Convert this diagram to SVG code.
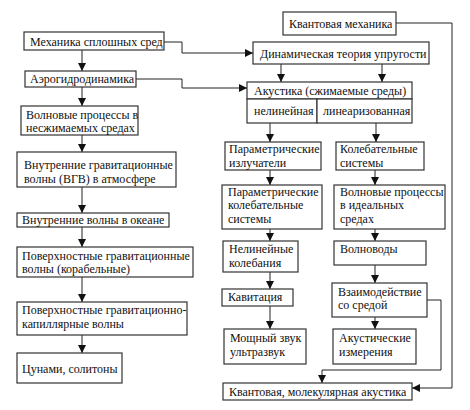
<svg xmlns="http://www.w3.org/2000/svg" width="470" height="410" viewBox="0 0 470 410" font-family="'Liberation Serif', 'DejaVu Serif', serif">
<style>
rect{fill:#fff;stroke:#333;stroke-width:1.2}
text{font-family:'Liberation Serif','DejaVu Serif',serif;font-size:12px;fill:#111}
.c path,.c line{fill:none;stroke:#222;stroke-width:1}
</style>
<defs>
<marker id="a" viewBox="0 0 8 8" refX="8" refY="4" markerWidth="8" markerHeight="8" markerUnits="userSpaceOnUse" orient="auto"><path d="M0,0L8,4L0,8z" fill="#111"/></marker>
</defs>
<rect width="470" height="410" style="fill:#fff;stroke:none"/>
<g class="c">
<line x1="82" y1="50" x2="82" y2="71" marker-end="url(#a)"/>
<line x1="82" y1="87" x2="82" y2="106" marker-end="url(#a)"/>
<line x1="82" y1="135" x2="82" y2="152" marker-end="url(#a)"/>
<line x1="82" y1="187" x2="82" y2="213" marker-end="url(#a)"/>
<line x1="82" y1="227" x2="82" y2="247" marker-end="url(#a)"/>
<line x1="82" y1="277" x2="82" y2="302" marker-end="url(#a)"/>
<line x1="82" y1="335" x2="82" y2="353" marker-end="url(#a)"/>
<path d="M164,42H182V53H253" marker-end="url(#a)"/>
<path d="M136,79H182V88H247" marker-end="url(#a)"/>
<line x1="281" y1="64" x2="281" y2="82" marker-end="url(#a)"/>
<line x1="382" y1="64" x2="382" y2="82" marker-end="url(#a)"/>
<line x1="270" y1="123" x2="270" y2="142" marker-end="url(#a)"/>
<line x1="376" y1="123" x2="376" y2="142" marker-end="url(#a)"/>
<line x1="270" y1="170" x2="270" y2="185" marker-end="url(#a)"/>
<line x1="270" y1="229" x2="270" y2="241" marker-end="url(#a)"/>
<line x1="270" y1="272" x2="270" y2="289" marker-end="url(#a)"/>
<line x1="270" y1="306" x2="270" y2="329" marker-end="url(#a)"/>
<line x1="375" y1="170" x2="375" y2="185" marker-end="url(#a)"/>
<line x1="375" y1="229" x2="375" y2="241" marker-end="url(#a)"/>
<line x1="375" y1="265" x2="375" y2="283" marker-end="url(#a)"/>
<line x1="375" y1="317" x2="375" y2="329" marker-end="url(#a)"/>
<path d="M427,300H441V370H322V383" marker-end="url(#a)"/>
<path d="M396,23H452V388H412" marker-end="url(#a)"/>
</g>
<g id="n-kvmeh"><rect x="283" y="12" width="113" height="23"/><text x="289" y="28">Квантовая механика</text></g>
<g id="n-msr"><rect x="24" y="32" width="140" height="18"/><text x="30" y="46">Механика сплошных сред</text></g>
<g id="n-dtu"><rect x="253" y="42" width="176" height="22"/><text x="260" y="58">Динамическая теория упругости</text></g>
<g id="n-aero"><rect x="25" y="71" width="111" height="16"/><text x="30" y="83">Аэрогидродинамика</text></g>
<g id="n-akust"><rect x="247" y="82" width="165" height="17"/><text x="254" y="95">Акустика (сжимаемые среды)</text>
<rect x="247" y="99" width="70" height="24"/><rect x="317" y="99" width="95" height="24"/>
<text x="254" y="115">нелинейная</text><text x="323" y="115">линеаризованная</text></g>
<g id="n-vpns"><rect x="21" y="106" width="117" height="29"/><text x="26" y="119">Волновые процессы в</text><text x="26" y="132">несжимаемых средах</text></g>
<g id="n-vgv"><rect x="17" y="152" width="159" height="35"/><text x="24" y="169">Внутренние гравитационные</text><text x="24" y="183">волны (ВГВ) в атмосфере</text></g>
<g id="n-vvo"><rect x="17" y="213" width="152" height="14"/><text x="22" y="224">Внутренние волны в океане</text></g>
<g id="n-pgv"><rect x="17" y="247" width="176" height="30"/><text x="22" y="260">Поверхностные гравитационные</text><text x="22" y="273">волны (корабельные)</text></g>
<g id="n-pgkv"><rect x="17" y="302" width="170" height="33"/><text x="22" y="314">Поверхностные гравитационно-</text><text x="22" y="328">капиллярные волны</text></g>
<g id="n-cun"><rect x="17" y="353" width="105" height="30"/><text x="22" y="373">Цунами, солитоны</text></g>
<g id="n-pi"><rect x="225" y="142" width="96" height="28"/><text x="229" y="153">Параметрические</text><text x="229" y="167">излучатели</text></g>
<g id="n-ks"><rect x="336" y="142" width="88" height="28"/><text x="340" y="153">Колебательные</text><text x="340" y="167">системы</text></g>
<g id="n-pks"><rect x="222" y="185" width="100" height="44"/><text x="228" y="196">Параметрические</text><text x="228" y="209">колебательные</text><text x="228" y="223">системы</text></g>
<g id="n-vpis"><rect x="334" y="185" width="111" height="44"/><text x="340" y="196">Волновые процессы</text><text x="340" y="209">в идеальных</text><text x="340" y="223">средах</text></g>
<g id="n-nk"><rect x="223" y="241" width="75" height="31"/><text x="229" y="253">Нелинейные</text><text x="229" y="267">колебания</text></g>
<g id="n-vv"><rect x="334" y="241" width="92" height="24"/><text x="340" y="253">Волноводы</text></g>
<g id="n-kav"><rect x="222" y="289" width="71" height="17"/><text x="228" y="301">Кавитация</text></g>
<g id="n-vss"><rect x="332" y="283" width="95" height="34"/><text x="338" y="296">Взаимодействие</text><text x="338" y="309">со средой</text></g>
<g id="n-mzu"><rect x="224" y="329" width="82" height="35"/><text x="230" y="342">Мощный звук</text><text x="230" y="356">ультразвук</text></g>
<g id="n-ai"><rect x="333" y="329" width="83" height="35"/><text x="339" y="342">Акустические</text><text x="339" y="356">измерения</text></g>
<g id="n-kma"><rect x="223" y="383" width="189" height="17"/><text x="229" y="396">Квантовая, молекулярная акустика</text></g>
</svg>
